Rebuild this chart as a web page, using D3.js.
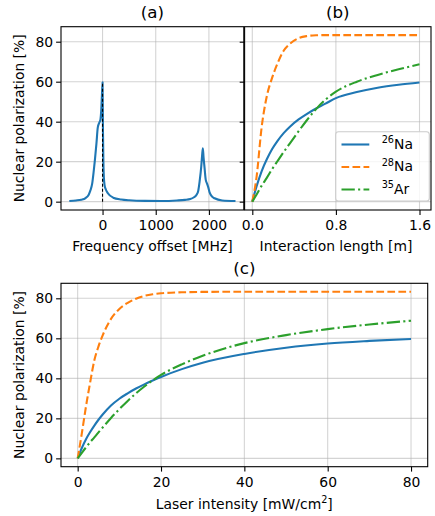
<!DOCTYPE html>
<html>
<head>
<meta charset="utf-8">
<script src="https://cdn.jsdelivr.net/npm/d3@7"></script>
<style>
  body { margin: 0; background: #fff; }
  svg { font-family: "DejaVu Sans", sans-serif; }
</style>
</head>
<body>
<div id="chart"></div>
<script>
// (a) spectrum
const specFreq = [-625, -500, -400, -320, -260, -230, -195, -165, -145, -115, -90, -65, -40, -25, -12, 0,
  8, 16, 25, 40, 60, 100, 200, 350, 500, 800, 1100, 1400, 1550, 1650, 1720, 1765, 1800, 1825, 1856, 1872,
  1886, 1900, 1918, 1940, 1965, 1990, 2015, 2060, 2106, 2250, 2500];
const specPol = [0.3, 0.6, 1.0, 1.8, 3.5, 5.5, 9, 15.5, 20.5, 29, 37, 39.3, 41, 45.5, 53, 59.7,
  35, 20, 12, 8, 6.2, 4.2, 2.0, 1.1, 0.7, 0.4, 0.35, 0.6, 0.9, 1.3, 2.2, 3.3, 5.5, 10, 17.5, 23,
  26.7, 22, 17, 11, 9, 7, 4.5, 2.5, 1.7, 0.6, 0.3];
const resonancePeak = 59.7;

// (b) versus interaction length
const lengthM = [0, 0.04, 0.09, 0.14, 0.19, 0.24, 0.30, 0.36, 0.44, 0.52, 0.61, 0.70, 0.80, 1.0, 1.2, 1.4, 1.6];
const na26Length = [0, 7.5, 15.3, 21.3, 26.3, 30.3, 34.3, 37.5, 41, 43.8, 46.6, 49, 51.8, 54.8, 57, 58.5, 59.6];
const na28Length = [0, 12, 37.5, 53, 62, 69, 75.5, 79, 81.7, 82.8, 83.2, 83.3, 83.3, 83.3, 83.3, 83.3, 83.3];
const ar35Length = [0, 3.5, 8, 12, 16.3, 20.2, 24.8, 29.2, 35, 40.6, 46.3, 51, 55, 60, 63.4, 66.2, 68.7];

// (c) versus laser intensity
const intensity = [0, 1, 2, 3, 4, 5, 6, 8, 10, 12, 14, 16, 18, 20, 25, 30, 40, 50, 60, 70, 80];
const na26Intensity = [0, 5.2, 9.6, 13.2, 16.4, 19.3, 21.9, 26.4, 29.8, 32.5, 34.9, 37, 38.9, 40.7, 44.6, 47.8, 52.2, 55.3, 57.4, 58.7, 59.7];
const na28Intensity = [0, 12.5, 26, 38, 49, 56, 61.5, 69.7, 74.7, 77.7, 79.8, 81.2, 82, 82.5, 83, 83.2, 83.3, 83.3, 83.3, 83.3, 83.3];
const ar35Intensity = [0, 2.8, 5.5, 8.1, 10.5, 13, 15.4, 20.2, 24.6, 28.7, 32.5, 35.9, 39, 41.7, 47, 51.3, 57.6, 61.6, 64.6, 66.9, 68.8];

const massNumbers = ["26", "28", "35"];
const elements = ["Na", "Na", "Ar"];
const freqTicks = [0, 1000, 2000];
const lengthTicks = [0, 0.8, 1.6];
const intensityTicks = [0, 20, 40, 60, 80];
const polTicks = [0, 20, 40, 60, 80];

const colors = ["#1f77b4", "#ff7f0e", "#2ca02c"];
const dashes = [null, "7.7,3.3", "13.3,3.3,2.1,3.3"];

const width = 435, height = 516;
const svg = d3.select("#chart").append("svg")
  .attr("width", width).attr("height", height);

const yDomain = [-4.167, 87.5];

function panel(x0, x1, y0, y1, xDomain, xTicks, xFormat, showYLabels) {
  const x = d3.scaleLinear().domain(xDomain).range([x0, x1]);
  const y = d3.scaleLinear().domain(yDomain).range([y1, y0]);
  const g = svg.append("g");

  // grid
  g.selectAll(".gx").data(xTicks).join("line")
    .attr("x1", d => x(d)).attr("x2", d => x(d))
    .attr("y1", y0).attr("y2", y1)
    .attr("stroke", "#b0b0b0").attr("stroke-opacity", 0.55).attr("stroke-width", 1.1);
  g.selectAll(".gy").data(polTicks).join("line")
    .attr("x1", x0).attr("x2", x1)
    .attr("y1", d => y(d)).attr("y2", d => y(d))
    .attr("stroke", "#b0b0b0").attr("stroke-opacity", 0.55).attr("stroke-width", 1.1);

  const xAxis = g.append("g")
    .attr("transform", `translate(0,${y1})`)
    .call(d3.axisBottom(x).tickValues(xTicks).tickFormat(xFormat)
      .tickSize(4.9).tickPadding(5.5).tickSizeOuter(0));
  const yAxis = g.append("g")
    .attr("transform", `translate(${x0},0)`)
    .call(d3.axisLeft(y).tickValues(polTicks).tickSize(4.9).tickPadding(3).tickSizeOuter(0));
  if (!showYLabels) yAxis.selectAll("text").remove();
  [xAxis, yAxis].forEach(a => {
    a.select(".domain").remove();
    a.selectAll("line").attr("stroke-width", 1.1);
    a.selectAll("text").style("font-family", "DejaVu Sans").style("font-size", "13.9px").attr("fill", "#000");
  });

  return { g, x, y, x0, x1, y0, y1 };
}

function frame(p) {
  p.g.append("rect")
    .attr("x", p.x0).attr("y", p.y0)
    .attr("width", p.x1 - p.x0).attr("height", p.y1 - p.y0)
    .attr("fill", "none").attr("stroke", "#000").attr("stroke-width", 1.1);
}

function drawSeries(p, xs, ys, i) {
  const line = d3.line()
    .x(d => p.x(d[0])).y(d => p.y(d[1]))
    .curve(d3.curveMonotoneX);
  p.g.append("path")
    .datum(d3.zip(xs, ys))
    .attr("d", line)
    .attr("fill", "none")
    .attr("stroke", colors[i])
    .attr("stroke-width", 2.1)
    .attr("stroke-dasharray", dashes[i]);
}

function title(text, cx, y) {
  svg.append("text").attr("x", cx).attr("y", y)
    .attr("text-anchor", "middle").style("font-size", "16.7px").text(text);
}

function yLabel(cy) {
  svg.append("text")
    .attr("transform", `translate(23.5,${cy}) rotate(-90)`)
    .attr("text-anchor", "middle").style("font-size", "13.9px")
    .text("Nuclear polarization [%]");
}

const fmtInt = d3.format("d");
const fmt1 = d3.format(".1f");

// (a)
const pa = panel(61, 243.8, 26.7, 210, [-781.25, 2656.25], freqTicks, fmtInt, true);
pa.g.append("path")
  .datum(d3.zip(specFreq, specPol))
  .attr("d", d3.line().x(d => pa.x(d[0])).y(d => pa.y(d[1])).curve(d3.curveMonotoneX))
  .attr("fill", "none").attr("stroke", colors[0]).attr("stroke-width", 2.1)
  .attr("stroke-linejoin", "round");
pa.g.append("line")
  .attr("x1", pa.x(0)).attr("x2", pa.x(0))
  .attr("y1", pa.y(0)).attr("y2", pa.y(resonancePeak))
  .attr("stroke", "#000").attr("stroke-width", 1.1).attr("stroke-dasharray", "3,2");
frame(pa);

// (b)
const pb = panel(244.6, 431, 26.7, 210, [-0.0737, 1.710], lengthTicks, fmt1, false);
[na26Length, na28Length, ar35Length].forEach((ys, i) => drawSeries(pb, lengthM, ys, i));
frame(pb);

// legend in (b)
const legend = svg.append("g");
legend.append("rect")
  .attr("x", 335.7).attr("y", 131.7).attr("width", 93.6).attr("height", 69.3)
  .attr("rx", 2.8).attr("fill", "#fff").attr("fill-opacity", 0.8)
  .attr("stroke", "#cccccc").attr("stroke-width", 1.1);
massNumbers.forEach((m, i) => {
  const ly = 144.5 + i * 22.5;
  legend.append("line")
    .attr("x1", 341.5).attr("x2", 369.3).attr("y1", ly).attr("y2", ly)
    .attr("stroke", colors[i]).attr("stroke-width", 2.1)
    .attr("stroke-dasharray", dashes[i]);
  const t = legend.append("text").attr("x", 381.7).attr("y", ly + 4.3)
    .style("font-size", "13.9px");
  t.append("tspan").attr("dy", -5.8).style("font-size", "9.7px").text(m);
  t.append("tspan").attr("dy", 5.8).text(elements[i]);
});

// (c)
const pc = panel(61, 427.7, 283.3, 466.7, [-4, 84], intensityTicks, fmtInt, true);
[na26Intensity, na28Intensity, ar35Intensity].forEach((ys, i) => drawSeries(pc, intensity, ys, i));
frame(pc);

// titles and labels
title("(a)", (61 + 243.8) / 2, 17.5);
title("(b)", (244.6 + 431) / 2, 17.5);
title("(c)", (61 + 427.7) / 2, 274);
yLabel((26.7 + 210) / 2);
yLabel((283.3 + 466.7) / 2);

svg.append("text").attr("x", 152.4).attr("y", 250.5)
  .attr("text-anchor", "middle").style("font-size", "13.9px")
  .text("Frequency offset [MHz]");
svg.append("text").attr("x", 336).attr("y", 250.5)
  .attr("text-anchor", "middle").style("font-size", "13.9px")
  .text("Interaction length [m]");
const xl = svg.append("text").attr("x", 244.3).attr("y", 508.5)
  .attr("text-anchor", "middle").style("font-size", "13.9px");
xl.append("tspan").text("Laser intensity [mW/cm");
xl.append("tspan").attr("dy", -5.8).style("font-size", "9.7px").text("2");
xl.append("tspan").attr("dy", 5.8).text("]");
</script>
</body>
</html>
